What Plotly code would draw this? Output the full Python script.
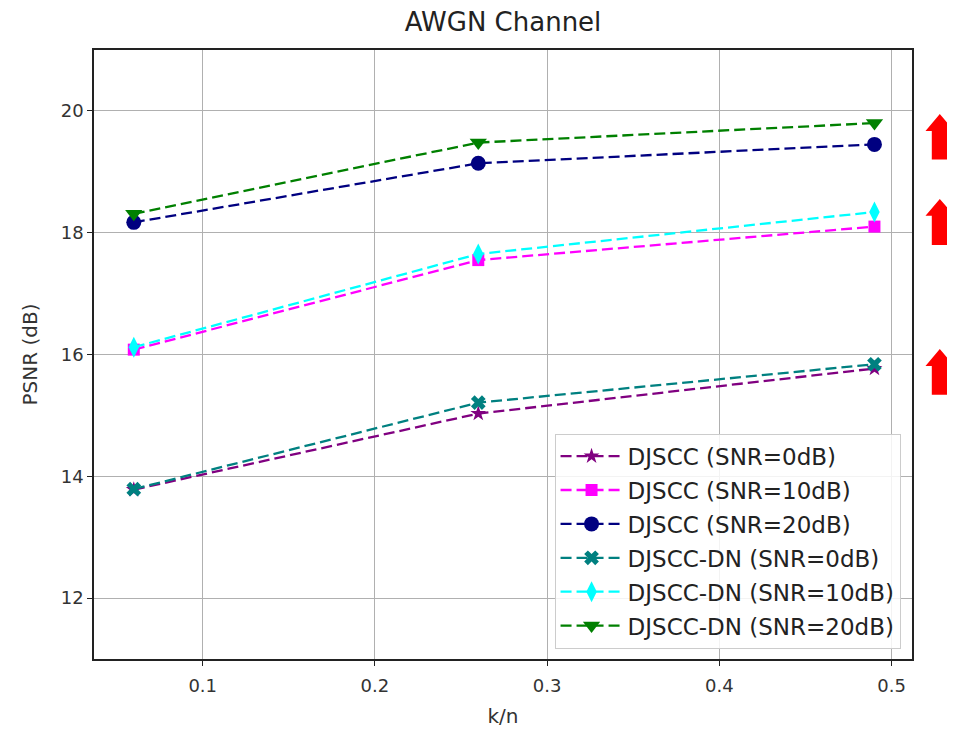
import plotly.graph_objects as go

# ---- data ----
kn = [0.06, 0.26, 0.49]
djscc_0 = [13.78, 15.03, 15.77]
djscc_10 = [16.08, 17.55, 18.10]
djscc_20 = [18.17, 19.14, 19.45]
dn_0 = [13.79, 15.21, 15.84]
dn_10 = [16.12, 17.65, 18.34]
dn_20 = [18.31, 19.48, 19.80]

names = ["DJSCC (SNR=0dB)", "DJSCC (SNR=10dB)", "DJSCC (SNR=20dB)",
         "DJSCC-DN (SNR=0dB)", "DJSCC-DN (SNR=10dB)", "DJSCC-DN (SNR=20dB)"]
series = [djscc_0, djscc_10, djscc_20, dn_0, dn_10, dn_20]
colors = ["#800080", "#ff00ff", "#000080", "#008080", "#00ffff", "#008000"]
symbols = ["star", "square", "circle", "x", "diamond-tall", "triangle-down"]
sizes = [12, 12, 15, 13, 15, 15]

x_ticks = [0.1, 0.2, 0.3, 0.4, 0.5]
y_ticks = [12, 14, 16, 18, 20]

# arrow decorations (y extents in data units: tip, head base, bottom)
arrows = [(19.95, 19.67, 19.20), (18.555, 18.28, 17.80), (16.09, 15.81, 15.34)]

FONT = "DejaVu Sans"

fig = go.Figure()
for i, (name, ys, c, s, sz) in enumerate(zip(names, series, colors, symbols, sizes)):
    fig.add_trace(go.Scatter(
        x=kn, y=ys, name=name, mode="lines+markers", legendgroup=f"g{i}",
        line=dict(color=c, width=2.3, dash="11px,5px"),
        marker=dict(symbol=s, size=sz, color=c, line=dict(width=0)),
    ))

# red block arrows to the right of the plot
xc, xh, xs = 1.034, 0.0175, 0.0098
for tip, base, bot in arrows:
    path = (f"M {xc-xs},{bot} L {xc-xs},{base} L {xc-xh},{base} L {xc},{tip} "
            f"L {xc+xh},{base} L {xc+xs},{base} L {xc+xs},{bot} Z")
    fig.add_shape(type="path", path=path, xref="paper", yref="y",
                  fillcolor="#ff0000", line=dict(width=0), layer="above")

axis_common = dict(
    showgrid=True, gridcolor="#b0b0b0", gridwidth=1,
    showline=True, linecolor="#222222", linewidth=1.5, mirror=True,
    ticks="outside", ticklen=5, tickcolor="#222222", tickwidth=1.2,
    zeroline=False, tickfont=dict(family=FONT, size=18, color="#333333"),
)

fig.update_layout(
    width=955, height=729,
    margin=dict(l=86, r=51, t=42, b=78),
    paper_bgcolor="white", plot_bgcolor="white",
    font=dict(family=FONT, color="#222222"),
    title=dict(text="AWGN Channel", x=0.5, xref="paper", xanchor="center",
               y=0.981, yanchor="middle",
               font=dict(family=FONT, size=26, color="#222222")),
    xaxis=dict(range=[0.0369, 0.5118], tickvals=x_ticks,
               ticktext=[f"{v:g}" for v in x_ticks], ticklabelstandoff=5,
               title=dict(text="k/n", font=dict(family=FONT, size=20, color="#333333"), standoff=14),
               **axis_common),
    yaxis=dict(range=[11, 21], tickvals=y_ticks,
               ticktext=[str(v) for v in y_ticks],
               title=dict(text="PSNR (dB)", font=dict(family=FONT, size=20, color="#333333"), standoff=18),
               **axis_common),
    legend=dict(x=0.986, y=0.017, xanchor="right", yanchor="bottom",
                bgcolor="rgba(255,255,255,0.85)", bordercolor="#cccccc", borderwidth=1,
                font=dict(family=FONT, size=23, color="#222222"),
                itemwidth=62, tracegroupgap=1),
    showlegend=True,
)

fig.write_html("out.html")
